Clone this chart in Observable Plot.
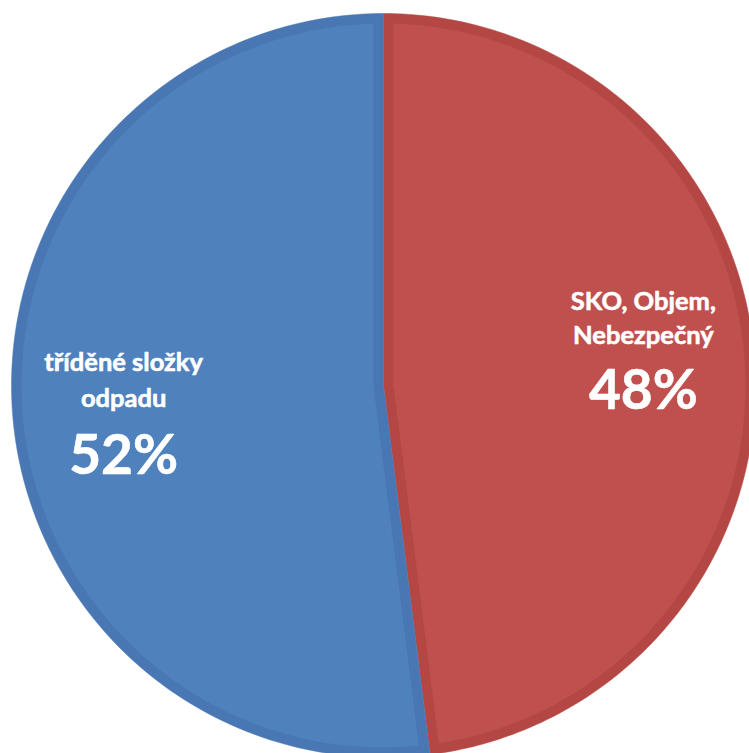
<!DOCTYPE html>
<html>
<head>
<meta charset="utf-8">
<script src="https://cdn.jsdelivr.net/npm/d3@7"></script>
<script src="https://cdn.jsdelivr.net/npm/@observablehq/plot@0.6"></script>
<style>
  html, body { margin: 0; padding: 0; background: #ffffff; }
  #chart svg { display: block; }
</style>
</head>
<body>
<div id="chart"></div>
<script>
// ---- data ----
const categories = ["SKO, Objem,\nNebezpečný", "tříděné složky\nodpadu"];
const values = [48, 52];
const percentLabels = ["48%", "52%"];

// ---- style ----
const fillColors = ["#C0504D", "#4F81BD"];
const edgeColors = ["#B44744", "#4877B3"];
const W = 749, H = 753;
const CX = 383, CY = 385, R = 372;        // pixel centre and radius
const band = 10 / R;                        // inner bevel band width (data units)
const fontFamily = "Lato, 'Open Sans', sans-serif";
const nameSize = 25.5, pctSize = 55;
// per-slice vertical pixel offsets of the label lines from the slice centroid (baselines)
const lineOffsets = [[-59, -25], [-31, 5]];
const pctOffsets = [40, 72];

const arcs = d3.pie().sort(null).value(d => d)(values);
const pt = (a, r) => ({x: r * Math.sin(a), y: r * Math.cos(a)});

function wedge(a0, a1, r, i, layer) {
  const n = Math.max(8, Math.ceil((a1 - a0) / (Math.PI / 180)));
  const pts = [{...pt(0, 0), i, layer}];
  for (let k = 0; k <= n; k++) pts.push({...pt(a0 + (a1 - a0) * k / n, r), i, layer});
  pts.push({...pt(0, 0), i, layer});
  return pts;
}
function innerWedge(a0, a1, i, layer) {
  const rr = 1 - band;
  const d = Math.asin(band / rr);
  const th = a1 - a0, mid = (a0 + a1) / 2;
  const v = pt(mid, band / Math.sin(th / 2));
  const n = Math.max(8, Math.ceil((a1 - a0) / (Math.PI / 180)));
  const pts = [{...v, i, layer}];
  for (let k = 0; k <= n; k++) pts.push({...pt(a0 + d + (a1 - a0 - 2 * d) * k / n, rr), i, layer});
  pts.push({...v, i, layer});
  return pts;
}

const outer = arcs.flatMap((a, i) => wedge(a.startAngle, a.endAngle, 1, i, "o"));
const inner = arcs.flatMap((a, i) => innerWedge(a.startAngle, a.endAngle, i, "n"));

const labelRows = [];
arcs.forEach((a, i) => {
  const mid = (a.startAngle + a.endAngle) / 2;
  const c = pt(mid, 0.7);
  const cpx = CY - c.y * R;
  categories[i].split("\n").forEach((line, j) => {
    const base = cpx + lineOffsets[i][j];
    labelRows.push({x: c.x, y: (CY - (base - 0.32 * nameSize)) / R, text: line, size: nameSize});
  });
  const base = cpx + pctOffsets[i];
  labelRows.push({x: c.x, y: (CY - (base - 0.32 * pctSize)) / R, text: percentLabels[i], size: pctSize});
});

const chart = Plot.plot({
  width: W, height: H, margin: 0,
  x: {domain: [-CX / R, (W - CX) / R], axis: null},
  y: {domain: [-(H - CY) / R, CY / R], axis: null},
  marks: [
    Plot.line(outer, {x: "x", y: "y", z: "i", fill: d => edgeColors[d.i], stroke: d => edgeColors[d.i], strokeWidth: 0.5, curve: "linear"}),
    Plot.line(inner, {x: "x", y: "y", z: "i", fill: d => fillColors[d.i], stroke: "none", curve: "linear"}),
    Plot.text(labelRows, {x: "x", y: "y", text: "text", fontSize: "size", fill: "white", stroke: "white", strokeWidth: 0.6, fontWeight: "bold", fontFamily, textAnchor: "middle"})
  ]
});
document.getElementById("chart").appendChild(chart);
</script>
</body>
</html>
